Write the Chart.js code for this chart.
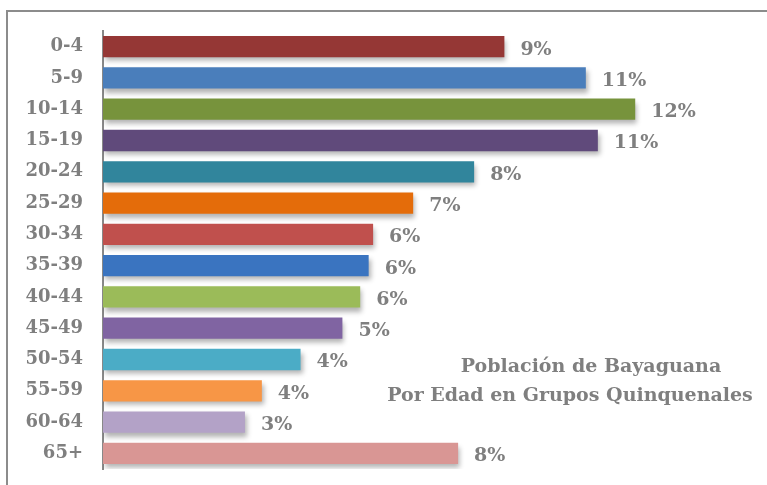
<!DOCTYPE html>
<html>
<head>
<meta charset="utf-8">
<script src="https://cdn.jsdelivr.net/npm/chart.js@4"></script>
<style>
  body { margin: 0; background: #fff; overflow: hidden; }
</style>
</head>
<body>
<canvas id="popChart" width="767" height="485"></canvas>
<script>
// Población de Bayaguana por grupos quinquenales (%)
const ageGroups = ['0-4', '5-9', '10-14', '15-19', '20-24', '25-29', '30-34',
                   '35-39', '40-44', '45-49', '50-54', '55-59', '60-64', '65+'];
const percents = [9.02, 10.85, 11.96, 11.12, 8.34, 6.97, 6.07,
                  5.97, 5.78, 5.38, 4.44, 3.57, 3.19, 7.98];
const barColors = ['#953735', '#4a7ebb', '#77933c', '#604a7b', '#31859c', '#e46c0a', '#c0504d',
                   '#3a74c0', '#9bbb59', '#8064a2', '#4bacc6', '#f79646', '#b3a2c7', '#d99694'];
const titleLines = ['Población de Bayaguana', 'Por Edad en Grupos Quinquenales'];

const grey = '#7f7f7f';
const serif = '"DejaVu Serif", serif';

// outer frame (only top and left edges are inside the picture)
const frame = {
    id: 'frame',
    beforeDraw(chart) {
        const ctx = chart.ctx;
        ctx.save();
        ctx.strokeStyle = '#8c8c8c';
        ctx.lineWidth = 2;
        ctx.beginPath();
        ctx.moveTo(7, 490);
        ctx.lineTo(7, 11);
        ctx.lineTo(780, 11);
        ctx.stroke();
        ctx.restore();
    }
};

// shadow under the bars
const barShadow = {
    id: 'barShadow',
    beforeDatasetsDraw(chart) {
        const ctx = chart.ctx;
        ctx.save();
        ctx.shadowColor = 'rgba(0,0,0,0.3)';
        ctx.shadowBlur = 5;
        ctx.shadowOffsetX = 2;
        ctx.shadowOffsetY = 4;
    },
    afterDatasetsDraw(chart) {
        chart.ctx.restore();
    }
};

// value labels and the chart title
const labelsAndTitle = {
    id: 'labelsAndTitle',
    afterDraw(chart) {
        const ctx = chart.ctx;
        const meta = chart.getDatasetMeta(0);
        ctx.save();
        ctx.fillStyle = grey;
        ctx.font = 'bold 19px ' + serif;
        ctx.textAlign = 'left';
        ctx.textBaseline = 'middle';
        meta.data.forEach((bar, i) => {
            ctx.fillText(Math.round(percents[i]) + '%', bar.x + 16, bar.y + 3);
        });
        ctx.textAlign = 'center';
        ctx.fillText(titleLines[0], 591, 367);
        ctx.fillText(titleLines[1], 570, 396);
        ctx.restore();
    }
};

const ctx = document.getElementById('popChart').getContext('2d');
new Chart(ctx, {
    type: 'bar',
    data: {
        labels: ageGroups,
        datasets: [{
            data: percents,
            backgroundColor: barColors,
            borderWidth: 0,
            barPercentage: 0.68,
            categoryPercentage: 1
        }]
    },
    options: {
        indexAxis: 'y',
        responsive: false,
        animation: false,
        layout: { padding: { top: 31, bottom: 16, right: 41, left: 0 } },
        plugins: {
            legend: { display: false },
            tooltip: { enabled: false }
        },
        scales: {
            x: { display: false, min: 0, max: 14 },
            y: {
                afterFit(scale) {
                    scale.width = 103;
                    scale.paddingTop = 0;
                    scale.paddingBottom = 0;
                },
                grid: { display: false, drawTicks: false },
                border: { display: true, color: '#888888', width: 2 },
                ticks: {
                    color: grey,
                    padding: 20,
                    font: { family: serif, size: 18, weight: 'bold' }
                }
            }
        }
    },
    plugins: [frame, barShadow, labelsAndTitle]
});
</script>
</body>
</html>
